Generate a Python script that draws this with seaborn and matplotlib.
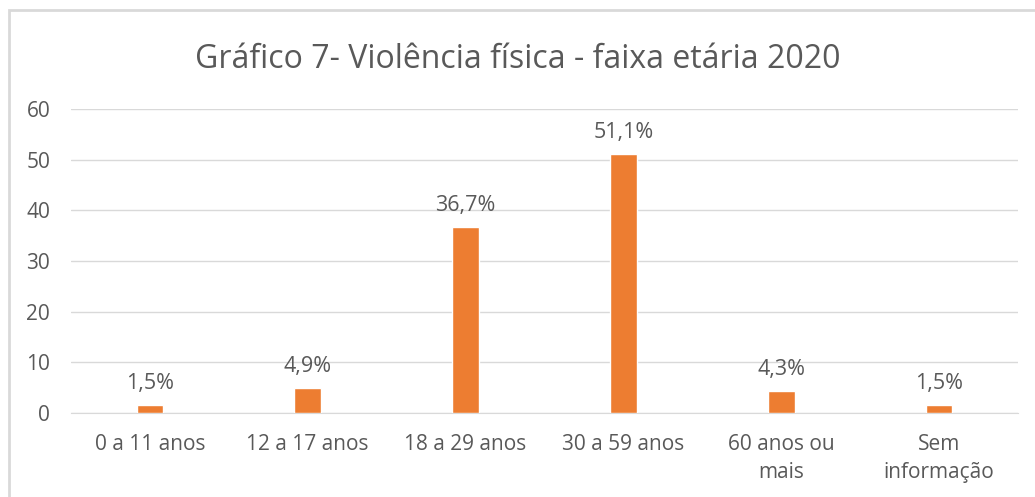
import matplotlib
matplotlib.use("Agg")
import matplotlib.pyplot as plt
import matplotlib.patches as mpatches
import seaborn as sns
import pandas as pd

categories = ['0 a 11 anos', '12 a 17 anos', '18 a 29 anos', '30 a 59 anos',
              '60 anos ou\nmais', 'Sem\ninformação']
values = [1.5, 4.9, 36.7, 51.1, 4.3, 1.5]
labels = ['1,5%', '4,9%', '36,7%', '51,1%', '4,3%', '1,5%']
yticks = [0, 10, 20, 30, 40, 50, 60]

sns.set_style("white")
plt.rcParams['font.family'] = ['Open Sans', 'DejaVu Sans']

text_color = '#595959'
bar_color = '#ED7D31'

df = pd.DataFrame({'faixa': categories, 'valor': values})

fig = plt.figure(figsize=(10.35, 4.97), dpi=100)
ax = fig.add_axes([71 / 1035, 1 - 413 / 497, 947 / 1035, 304 / 497])

sns.barplot(data=df, x='faixa', y='valor', color=bar_color, width=0.17,
            saturation=1, ax=ax, zorder=3)

ax.set_ylim(0, 60)
ax.set_yticks(yticks)
ax.set_xlim(-0.5, len(categories) - 0.5)
ax.yaxis.grid(True, color='#D9D9D9', linewidth=1, zorder=0)
for s in ax.spines.values():
    s.set_visible(False)
ax.spines['bottom'].set_visible(True)
ax.spines['bottom'].set_color('#D9D9D9')
ax.tick_params(axis='both', length=0, labelsize=15, colors=text_color)
ax.tick_params(axis='y', pad=15)
ax.tick_params(axis='x', pad=15)
for t in ax.get_xticklabels():
    t.set_linespacing(1.45)
ax.set_xlabel('')
ax.set_ylabel('')

for i, (v, lab) in enumerate(zip(values, labels)):
    ax.annotate(lab, (i, v), xytext=(0, 8), textcoords='offset points',
                ha='center', va='bottom', fontsize=15.5, color=text_color)

fig.text(0.5, 1 - 59 / 497, 'Gráfico 7- Violência física - faixa etária 2020',
         ha='center', va='center', fontsize=23, color=text_color)

# chart border (only left and top edges visible in the crop)
fig.patches.append(mpatches.Rectangle((9 / 1035, -0.1), 1.2, 0.1 + 1 - 10 / 497,
                                      transform=fig.transFigure, fill=False,
                                      edgecolor='#D9D9D9', linewidth=2))

fig.savefig('out.png', dpi=100)
